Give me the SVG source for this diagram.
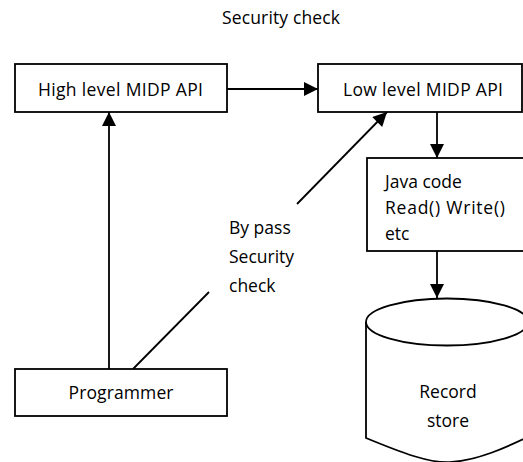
<svg xmlns="http://www.w3.org/2000/svg" width="523" height="462" viewBox="0 0 523 462">
<defs>
<marker id="ah" viewBox="0 0 10 10" refX="10" refY="5" markerWidth="15" markerHeight="14" markerUnits="userSpaceOnUse" orient="auto">
<path d="M0,0 L10,5 L0,10 Z" fill="#000"/>
</marker>
<style>
.box{fill:#fff;stroke:#000;stroke-width:1.8}
.ln{fill:none;stroke:#000;stroke-width:1.8}
.t{font-family:"Open Sans","Liberation Sans",sans-serif;font-size:17.5px;fill:#000}
.c{text-anchor:middle}
</style>
</defs>
<rect width="523" height="462" fill="#fff"/>
<text class="t c" x="281" y="24" textLength="118">Security check</text>
<g id="connectors">
<line class="ln" x1="227" y1="89" x2="318" y2="89" marker-end="url(#ah)"/>
<line class="ln" x1="437" y1="112" x2="437" y2="158" marker-end="url(#ah)"/>
<line class="ln" x1="437" y1="251" x2="437" y2="298" marker-end="url(#ah)"/>
<line class="ln" x1="109" y1="369" x2="109" y2="112" marker-end="url(#ah)"/>
<line class="ln" x1="133" y1="369" x2="209" y2="292"/>
<line class="ln" x1="297" y1="204" x2="387" y2="112" marker-end="url(#ah)"/>
<text class="t" x="229" y="234">By pass</text>
<text class="t" x="229" y="263">Security</text>
<text class="t" x="229" y="292">check</text>
</g>
<g id="high">
<rect class="box" x="15" y="64" width="212" height="48"/>
<text class="t c" x="120.5" y="96" textLength="165">High level MIDP API</text>
</g>
<g id="low">
<rect class="box" x="318" y="64" width="204" height="48"/>
<text class="t c" x="423" y="96" textLength="160">Low level MIDP API</text>
</g>
<g id="java">
<rect class="box" x="367" y="158" width="160" height="93"/>
<text class="t" x="385" y="188">Java code</text>
<text class="t" x="385" y="214" textLength="120">Read() Write()</text>
<text class="t" x="385" y="240">etc</text>
</g>
<g id="store">
<path class="box" d="M366,322 L366,438 C400,452 430,464 452,462 C478,460 505,448 530,436 L530,322"/>
<ellipse class="box" cx="447" cy="322" rx="81" ry="23.5"/>
<text class="t c" x="448" y="398">Record</text>
<text class="t c" x="448" y="427">store</text>
</g>
<g id="programmer">
<rect class="box" x="15" y="369" width="212" height="47"/>
<text class="t c" x="121" y="399" textLength="105">Programmer</text>
</g>
</svg>
